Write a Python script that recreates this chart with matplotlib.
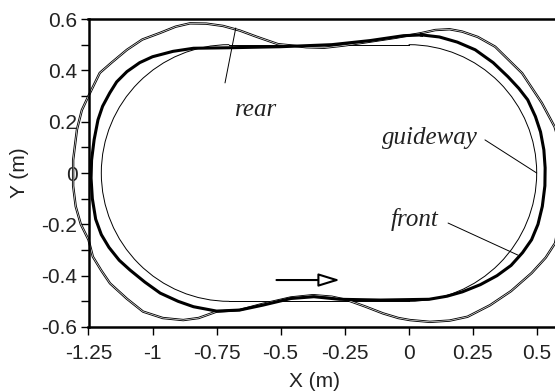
import matplotlib
matplotlib.use("Agg")
import matplotlib.pyplot as plt
from matplotlib.patches import Arc

# ---------------------------------------------------------
# data (metres)
# ---------------------------------------------------------
# guideway: two half circles joined by straights
guide_r = 0.5
guide_cx_left = -0.70
guide_cx_right = 0.0

# front trace (thick bundle), counter-clockwise
front_x = [0.05, -0.02, -0.15, -0.30, -0.50, -0.70, -0.84, -0.92, -1.00, -1.05,
           -1.10, -1.14, -1.167, -1.195, -1.213, -1.228, -1.238, -1.24, -1.235, -1.222,
           -1.20, -1.17, -1.13, -1.088, -1.03, -0.97, -0.90, -0.84, -0.75, -0.66,
           -0.57, -0.46, -0.37, -0.27, -0.11, 0.08, 0.15, 0.21, 0.28, 0.345,
           0.40, 0.445, 0.48, 0.505, 0.522, 0.532, 0.533, 0.528, 0.515, 0.495,
           0.465, 0.43, 0.388, 0.33, 0.26, 0.19, 0.12, 0.05]
front_y = [0.538, 0.535, 0.516, 0.500, 0.492, 0.488, 0.486, 0.474, 0.453, 0.43,
           0.395, 0.355, 0.312, 0.26, 0.207, 0.13, 0.05, -0.02, -0.10, -0.18,
           -0.24, -0.29, -0.34, -0.378, -0.425, -0.468, -0.50, -0.521, -0.538, -0.534,
           -0.515, -0.489, -0.482, -0.492, -0.495, -0.492, -0.48, -0.463, -0.435, -0.40,
           -0.36, -0.31, -0.26, -0.20, -0.13, -0.05, 0.02, 0.09, 0.16, 0.22,
           0.285, 0.33, 0.375, 0.43, 0.48, 0.51, 0.53, 0.538]

# rear trace (outer wavy curve), counter-clockwise
rear_x = [0.605, 0.60, 0.57, 0.52, 0.443, 0.338, 0.27, 0.209, 0.16, 0.104,
          0.05, -0.05, -0.15, -0.25, -0.33, -0.40, -0.46, -0.51, -0.594, -0.659,
          -0.725, -0.79, -0.854, -0.91, -0.97, -1.04, -1.10, -1.16, -1.206, -1.252,
          -1.276, -1.295, -1.31, -1.31, -1.30, -1.28, -1.25, -1.233, -1.20, -1.166,
          -1.10, -1.037, -0.96, -0.88, -0.82, -0.75, -0.66, -0.57, -0.46, -0.373,
          -0.30, -0.24, -0.17, -0.10, -0.04, 0.005, 0.083, 0.16, 0.23, 0.318,
          0.40, 0.48, 0.535, 0.572, 0.595, 0.605]
rear_y = [-0.03, 0.08, 0.18, 0.273, 0.389, 0.492, 0.53, 0.551, 0.56, 0.557,
          0.545, 0.527, 0.512, 0.497, 0.488, 0.49, 0.497, 0.502, 0.531, 0.555,
          0.573, 0.582, 0.583, 0.57, 0.546, 0.52, 0.48, 0.43, 0.39, 0.296,
          0.245, 0.17, 0.05, -0.05, -0.13, -0.20, -0.26, -0.326, -0.38, -0.43,
          -0.49, -0.54, -0.565, -0.573, -0.565, -0.54, -0.534, -0.51, -0.485, -0.476,
          -0.482, -0.495, -0.52, -0.547, -0.565, -0.573, -0.58, -0.575, -0.56, -0.515,
          -0.46, -0.39, -0.33, -0.273, -0.15, -0.03]

x_ticks = [-1.25, -1, -0.75, -0.5, -0.25, 0, 0.25, 0.5]
x_tick_labels = ["-1.25", "-1", "-0.75", "-0.5", "-0.25", "0", "0.25", "0.5"]
y_ticks = [-0.6, -0.4, -0.2, 0, 0.2, 0.4, 0.6]
y_tick_labels = ["-0.6", "-0.4", "-0.2", "0", "0.2", "0.4", "0.6"]

# ---------------------------------------------------------
# figure
# ---------------------------------------------------------
plt.rcParams['font.family'] = ['Liberation Sans', 'DejaVu Sans']
fig = plt.figure(figsize=(5.55, 3.92), dpi=100)
# axes run past the right edge of the picture, as in the reference
ax = fig.add_axes([88.5 / 555, 65 / 392, 473.8 / 555, 308 / 392])
ax.set_xlim(-1.25, 0.6)
ax.set_ylim(-0.6, 0.6)

# guideway
gw = dict(color='black', lw=0.7)
ax.plot([guide_cx_left, guide_cx_right], [guide_r, guide_r], **gw)
ax.plot([guide_cx_left, guide_cx_right], [-guide_r, -guide_r], **gw)
ax.add_patch(Arc((guide_cx_left, 0), 2 * guide_r, 2 * guide_r, theta1=90, theta2=270, **gw))
ax.add_patch(Arc((guide_cx_right, 0), 2 * guide_r, 2 * guide_r, theta1=-90, theta2=90, **gw))

# traces (rear drawn as a double line, like two overlapping laps)
ax.plot(rear_x, rear_y, color='black', lw=1.7, clip_on=False, solid_joinstyle='round')
ax.plot(rear_x, rear_y, color='white', lw=0.45, clip_on=False, solid_joinstyle='round')
ax.plot(front_x, front_y, color='black', lw=2.2, clip_on=False, solid_joinstyle='round')

# labels on the curves
txt = dict(family='Liberation Serif', style='italic', fontsize=18, color='#222222')
ax.text(-0.596, 0.246, 'rear', ha='center', va='center', **txt)
ax.text(0.083, 0.135, 'guideway', ha='center', va='center', **txt)
ax.text(0.022, -0.183, 'front', ha='center', va='center', **txt)
leader = dict(arrowstyle='-', lw=0.7, color='black', shrinkA=0, shrinkB=0)
ax.annotate('', xy=(-0.717, 0.351), xytext=(-0.675, 0.565), arrowprops=leader)
ax.annotate('', xy=(0.50, 0.0), xytext=(0.298, 0.129), arrowprops=leader)
ax.annotate('', xy=(0.427, -0.32), xytext=(0.154, -0.195), arrowprops=leader)

# direction arrow
ax.annotate('', xy=(-0.268, -0.417), xytext=(-0.516, -0.417),
            arrowprops=dict(arrowstyle='-|>,head_length=1.3,head_width=0.4',
                            fc='white', ec='black', lw=1.5, shrinkA=0, shrinkB=0))

# axes styling
ax.set_xticks(x_ticks)
ax.set_xticklabels(x_tick_labels)
ax.set_yticks(y_ticks)
ax.set_yticklabels(y_tick_labels)
ax.set_yticks([-0.5, -0.3, -0.1, 0.1, 0.3, 0.5], minor=True)
ax.tick_params(which='both', direction='out', length=6, width=1.0, labelsize=15,
               colors='black', labelcolor='#222222')
ax.tick_params(axis='x', pad=6)
ax.tick_params(axis='y', pad=2)
for side in ['left', 'bottom', 'top']:
    ax.spines[side].set_linewidth(1.8)
ax.spines['right'].set_visible(False)

ax.set_xlabel('X (m)', fontsize=15, color='#222222')
ax.set_ylabel('Y (m)', fontsize=15, color='#222222')
ax.xaxis.set_label_coords(0.476, -0.145)
ax.yaxis.set_label_coords(-0.125, 0.5)

fig.savefig('out.png', dpi=100)
